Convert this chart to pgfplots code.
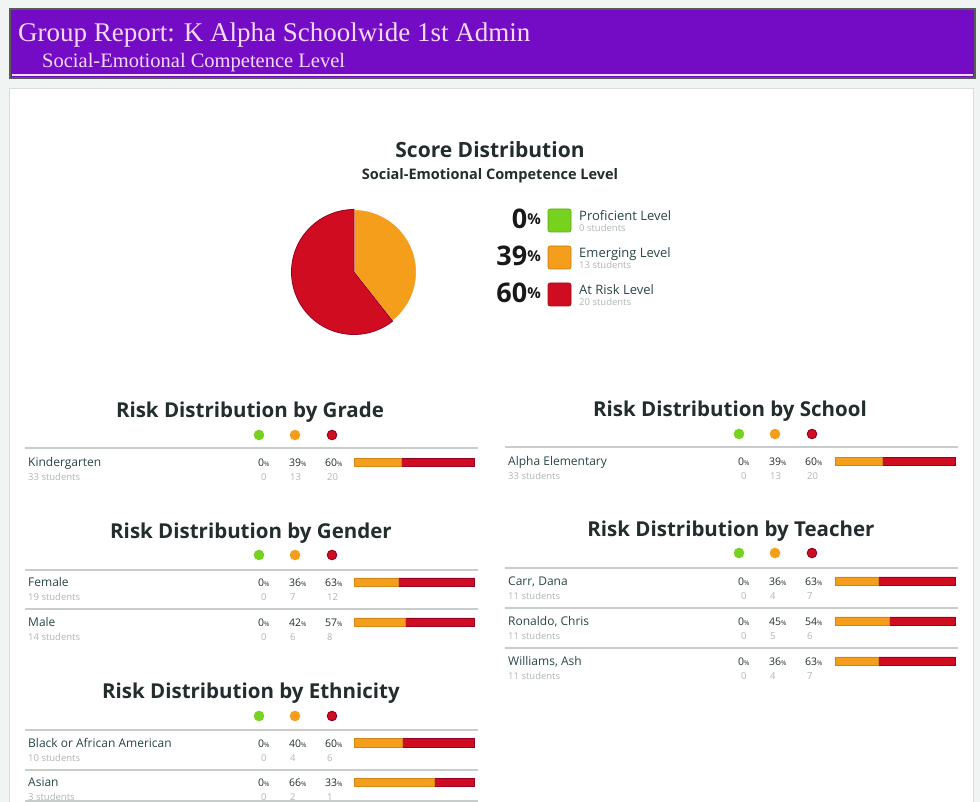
\documentclass[border=0pt]{standalone}
\usepackage{pgfplots}
\pgfplotsset{compat=1.18}
\usepackage{pgfplotstable}
\usepgfplotslibrary{polar}
\usepackage{fontspec}
\setmainfont{Open Sans}
\newfontfamily\titlefont{Liberation Serif}

\definecolor{cPurple}{RGB}{116,12,198}
\definecolor{cOrange}{RGB}{245,158,28}
\definecolor{cRed}{RGB}{208,12,32}
\definecolor{cRedEdge}{RGB}{150,0,40}
\definecolor{cGreen}{RGB}{118,210,30}
\definecolor{cText}{RGB}{35,45,45}
\definecolor{cName}{RGB}{40,70,70}
\definecolor{cSub}{RGB}{175,182,180}
\definecolor{cLine}{RGB}{200,205,203}
\definecolor{cBg}{RGB}{240,244,242}
\definecolor{cTitle}{RGB}{246,218,246}

% counts per row: n = students, p = proficient, e = emerging, r = at risk
\pgfplotstableread{
n p e r
33 0 13 20
}\grade
\pgfplotstableread{
n p e r
33 0 13 20
}\school
\pgfplotstableread{
n p e r
19 0 7 12
14 0 6 8
}\gender
\pgfplotstableread{
n p e r
11 0 4 7
11 0 5 6
11 0 4 7
}\teacher
\pgfplotstableread{
n p e r
10 0 4 6
3 0 2 1
}\ethnicity

% #1 table, #2 left x, #3 top y, #4 height, #5 ymax
\newcommand{\riskbars}[5]{%
\begin{axis}[at={(#2pt,-#3pt)},anchor=north west,scale only axis,
  width=120pt,height=#4,hide axis,xbar stacked,bar width=8.5pt,
  xmin=0,xmax=100,ymin=-0.5,ymax=#5,y dir=reverse,
  enlargelimits=false,clip=false]
\addplot[fill=cGreen,draw=none] table[x expr={100*\thisrow{p}/\thisrow{n}},y expr=\coordindex]{#1};
\addplot[fill=cOrange,draw=cOrange!85!black,line width=0.3pt] table[x expr={100*\thisrow{e}/\thisrow{n}},y expr=\coordindex]{#1};
\addplot[fill=cRed,draw=cRedEdge,line width=0.5pt] table[x expr={100*\thisrow{r}/\thisrow{n}},y expr=\coordindex]{#1};
\end{axis}}

\newcommand{\pc}[1]{{\fontsize{10.5}{10.5}\selectfont #1}{\fontsize{6.5}{6.5}\selectfont\%}}
% #1 x, #2 baseline y, #3 name, #4 students
\newcommand{\rowlabel}[4]{%
\node[anchor=base west,text=cName,font=\fontsize{12}{12}\selectfont,inner sep=0] at (#1,-#2) {#3};
\node[anchor=base west,text=cSub,font=\fontsize{9.5}{9.5}\selectfont,inner sep=0] at (#1,-#2-14) {#4 students};}
% #1 x, #2 baseline y, #3-#5 percents, #6-#8 counts
\newcommand{\rowpct}[8]{%
\node[anchor=base west,text=cText,inner sep=0] at (#1,-#2) {\pc{#3}};
\node[anchor=base west,text=cText,inner sep=0] at (#1+31,-#2) {\pc{#4}};
\node[anchor=base west,text=cText,inner sep=0] at (#1+67,-#2) {\pc{#5}};
\node[anchor=base west,text=cSub,font=\fontsize{9.5}{9.5}\selectfont,inner sep=0] at (#1+3,-#2-14) {#6};
\node[anchor=base west,text=cSub,font=\fontsize{9.5}{9.5}\selectfont,inner sep=0] at (#1+32,-#2-14) {#7};
\node[anchor=base west,text=cSub,font=\fontsize{9.5}{9.5}\selectfont,inner sep=0] at (#1+69,-#2-14) {#8};}
% #1 center x, #2 baseline y, #3 title, #4 dots y, #5 first dot x
\newcommand{\panelhead}[5]{%
\node[anchor=base,text=cText,font=\bfseries\fontsize{20.5}{20.5}\selectfont,inner sep=0] at (#1,-#2) {#3};
\fill[cGreen] (#5,-#4) circle (5.3);
\fill[cOrange] (#5+36,-#4) circle (5.3);
\filldraw[fill=cRed,draw=cRedEdge,line width=0.9pt] (#5+73,-#4) circle (4.8);}
\newcommand{\sep}[3]{\draw[cLine,line width=1.3pt] (#1,-#3) -- (#2,-#3);}

\begin{document}
\begin{tikzpicture}[x=1pt,y=1pt]
\path[use as bounding box] (0,0) rectangle (980,-802);
\fill[cBg] (0,0) rectangle (980,-802);
% card
\filldraw[fill=white,draw=cLine!70,line width=1pt] (9,-89) rectangle (973,-812);
% banner
\fill[cPurple] (10,-9) rectangle (975,-78);
\draw[cTitle,line width=1.2pt] (12,-75) -- (973,-75);
\draw[black!65,line width=1.2pt] (10,-9) rectangle (975,-78);
\node[anchor=base west,text=cTitle,font=\titlefont\fontsize{27}{27}\selectfont,inner sep=0] at (18,-42) {Group Report: K Alpha Schoolwide 1st Admin};
\node[anchor=base west,text=cTitle,font=\titlefont\fontsize{20.5}{20.5}\selectfont,inner sep=0] at (42,-68) {Social-Emotional Competence Level};

% score distribution
\node[anchor=base,text=cText,font=\bfseries\fontsize{21}{21}\selectfont,inner sep=0] at (490,-158) {Score Distribution};
\node[anchor=base,text=cText,font=\bfseries\fontsize{14.5}{14.5}\selectfont,inner sep=0] at (490,-180) {Social-Emotional Competence Level};

\begin{polaraxis}[at={(354pt,-272pt)},anchor=center,scale only axis,
  width=125pt,height=125pt,hide axis,ymin=0,ymax=1,clip=false]
% emerging 13 of 33, at risk 20 of 33, starting at 12 o'clock
\addplot[fill=cOrange,draw=white,line width=1pt,domain={90-360*13/33}:90,samples=90] {1} -- (0,0) -- cycle;
\addplot[fill=cRed,draw=cRedEdge,line width=0.8pt,domain=90:{90+360*20/33},samples=120] {1} -- (0,0) -- cycle;
\end{polaraxis}

% legend
\foreach \v/\c/\y/\lab/\st in {0/cGreen/220/Proficient Level/0,39/cOrange/257/Emerging Level/13,60/cRed/294/At Risk Level/20}{
  \node[anchor=base east,text=black!90,inner sep=0] at (541,-\y-9) {{\bfseries\fontsize{27}{27}\selectfont\v}\raisebox{4pt}{\bfseries\fontsize{15}{15}\selectfont\%}};
  \filldraw[fill=\c,draw=\c!80!black,line width=0.6pt,rounded corners=2pt] (548,-\y+11) rectangle (571,-\y-12);
  \node[anchor=base west,text=cName,font=\fontsize{13}{13}\selectfont,inner sep=0] at (579,-\y-1) {\lab};
  \node[anchor=base west,text=cSub,font=\fontsize{9.5}{9.5}\selectfont,inner sep=0] at (579,-\y-12) {\st{} students};
}

% grade
\panelhead{250}{417}{Risk Distribution by Grade}{435}{259}
\sep{25}{478}{448}
\rowlabel{28}{466}{Kindergarten}{33}
\rowpct{258}{466}{0}{39}{60}{0}{13}{20}
\riskbars{\grade}{354}{442}{40pt}{0.5}

% school
\panelhead{730}{416}{Risk Distribution by School}{434}{739}
\sep{505}{958}{447}
\rowlabel{508}{465}{Alpha Elementary}{33}
\rowpct{738}{465}{0}{39}{60}{0}{13}{20}
\riskbars{\school}{835}{441}{40pt}{0.5}

% gender
\panelhead{251}{538}{Risk Distribution by Gender}{555}{259}
\sep{25}{478}{570}
\sep{25}{478}{609}
\rowlabel{28}{586}{Female}{19}
\rowpct{258}{586}{0}{36}{63}{0}{7}{12}
\rowlabel{28}{626}{Male}{14}
\rowpct{258}{626}{0}{42}{57}{0}{6}{8}
\riskbars{\gender}{354}{562}{80pt}{1.5}

% teacher
\panelhead{731}{536}{Risk Distribution by Teacher}{553}{739}
\sep{505}{958}{568}
\sep{505}{958}{608}
\sep{505}{958}{648}
\rowlabel{508}{585}{Carr, Dana}{11}
\rowpct{738}{585}{0}{36}{63}{0}{4}{7}
\rowlabel{508}{625}{Ronaldo, Chris}{11}
\rowpct{738}{625}{0}{45}{54}{0}{5}{6}
\rowlabel{508}{665}{Williams, Ash}{11}
\rowpct{738}{665}{0}{36}{63}{0}{4}{7}
\riskbars{\teacher}{835}{561}{120pt}{2.5}

% ethnicity
\panelhead{251}{698}{Risk Distribution by Ethnicity}{716}{259}
\sep{25}{478}{730}
\sep{25}{478}{770}
\sep{25}{478}{801}
\rowlabel{28}{747}{Black or African American}{10}
\rowpct{258}{747}{0}{40}{60}{0}{4}{6}
\rowlabel{28}{786}{Asian}{3}
\rowpct{258}{786}{0}{66}{33}{0}{2}{1}
\riskbars{\ethnicity}{354}{723}{79pt}{1.5}
\end{tikzpicture}
\end{document}
